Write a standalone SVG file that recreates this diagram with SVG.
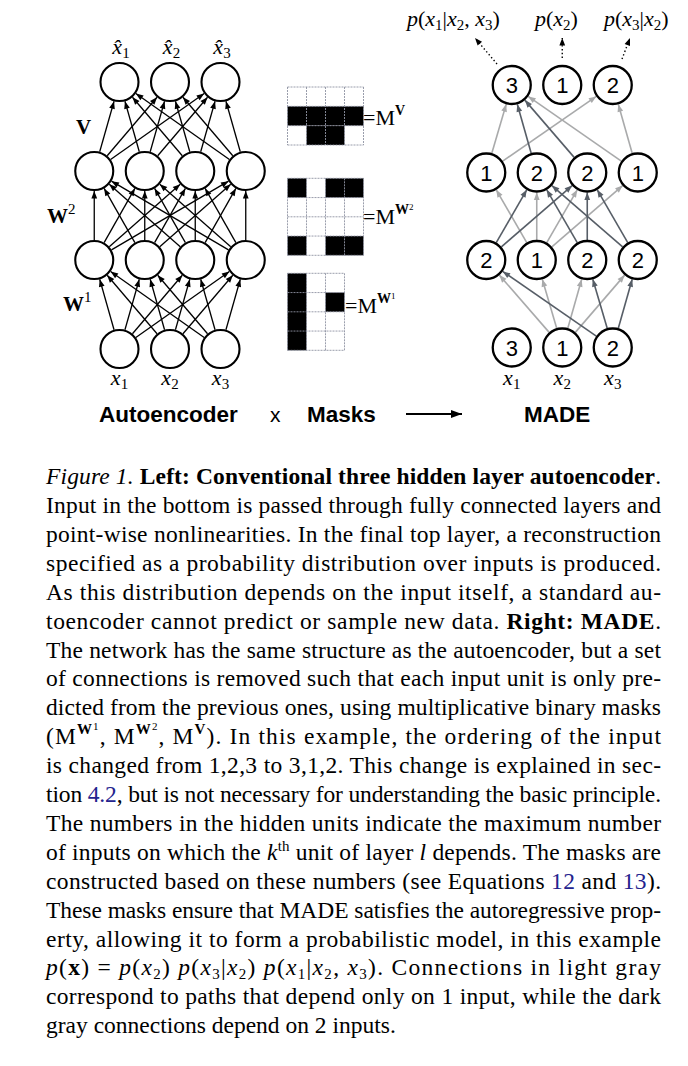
<svg xmlns="http://www.w3.org/2000/svg" width="688" height="1066" viewBox="0 0 688 1066">
<style>
.node{fill:#fff;stroke:#000;stroke-width:2.1}
.mnode{fill:#fff;stroke:#000;stroke-width:2.3}
.num{font-family:"Liberation Sans",Arial,sans-serif;font-size:22px;text-anchor:middle;fill:#000}
.blk{fill:none;stroke:#000;stroke-width:1.3;marker-end:url(#ahB)}
.lt{fill:none;stroke:#a9aaab;stroke-width:1.6;marker-end:url(#ahL)}
.dk{fill:none;stroke:#575e67;stroke-width:1.6;marker-end:url(#ahD)}
.dot{fill:none;stroke:#000;stroke-width:1.4;stroke-dasharray:1.4 2.4;marker-end:url(#ahB)}
.math{font-family:"Liberation Serif","Times New Roman",serif;font-size:22px;font-style:italic;fill:#000}
.sub{font-style:normal;font-size:15px}
.lbl{font-family:"Liberation Serif","Times New Roman",serif;font-weight:bold;font-size:21px;fill:#000}
.title{font-family:"Liberation Sans",Arial,sans-serif;font-weight:bold;font-size:22.5px;fill:#000}
.grid{fill:none;stroke:#8e93a3;stroke-width:0.9;stroke-dasharray:2 1}
.mtxt{font-family:"Liberation Serif","Times New Roman",serif;font-size:22px;fill:#000}
.cap{font-family:"Liberation Serif","Times New Roman",serif;font-size:23.5px;fill:#000}
.link{fill:#23238e}
</style>
<defs>
<marker id="ahB" viewBox="-10 -5 10 10" refX="0" refY="0" markerWidth="10" markerHeight="10" markerUnits="userSpaceOnUse" orient="auto"><path d="M0,0 L-7.5,-2.9 L-7.5,2.9 Z" fill="#000"/></marker>
<marker id="ahL" viewBox="-10 -5 10 10" refX="0" refY="0" markerWidth="10" markerHeight="10" markerUnits="userSpaceOnUse" orient="auto"><path d="M0,0 L-7.5,-2.9 L-7.5,2.9 Z" fill="#a9aaab"/></marker>
<marker id="ahD" viewBox="-10 -5 10 10" refX="0" refY="0" markerWidth="10" markerHeight="10" markerUnits="userSpaceOnUse" orient="auto"><path d="M0,0 L-7.5,-2.9 L-7.5,2.9 Z" fill="#575e67"/></marker>
<marker id="ahBig" viewBox="-12 -5 12 10" refX="0" refY="0" markerWidth="12" markerHeight="10" markerUnits="userSpaceOnUse" orient="auto"><path d="M0,0 L-11,-4 L-11,4 Z" fill="#000"/></marker>
</defs>

<g id="connectors">
<!-- left: input -> hidden1 -->
<path class="blk" d="M114.04,329.76 L99.71,279.24"/>
<path class="blk" d="M124.96,329.76 L139.29,279.24"/>
<path class="blk" d="M132.46,333.77 L182.29,275.23"/>
<path class="blk" d="M135.85,337.48 L229.4,271.52"/>
<path class="blk" d="M157.04,333.77 L107.21,275.23"/>
<path class="blk" d="M164.54,329.76 L150.21,279.24"/>
<path class="blk" d="M175.46,329.76 L189.79,279.24"/>
<path class="blk" d="M182.96,333.77 L232.79,275.23"/>
<path class="blk" d="M204.15,337.48 L110.6,271.52"/>
<path class="blk" d="M207.54,333.77 L157.71,275.23"/>
<path class="blk" d="M215.04,329.76 L200.71,279.24"/>
<path class="blk" d="M225.96,329.76 L240.29,279.24"/>
<!-- left: hidden1 -> hidden2 -->
<path class="blk" d="M94.25,240 L94.25,191"/>
<path class="blk" d="M104.12,242.61 L134.88,188.39"/>
<path class="blk" d="M109.26,246.78 L180.24,184.22"/>
<path class="blk" d="M111.49,249.87 L228.51,181.13"/>
<path class="blk" d="M134.88,242.61 L104.12,188.39"/>
<path class="blk" d="M144.75,240 L144.75,191"/>
<path class="blk" d="M154.62,242.61 L185.38,188.39"/>
<path class="blk" d="M159.76,246.78 L230.74,184.22"/>
<path class="blk" d="M180.24,246.78 L109.26,184.22"/>
<path class="blk" d="M185.38,242.61 L154.62,188.39"/>
<path class="blk" d="M195.25,240 L195.25,191"/>
<path class="blk" d="M205.12,242.61 L235.88,188.39"/>
<path class="blk" d="M228.51,249.87 L111.49,181.13"/>
<path class="blk" d="M230.74,246.78 L159.76,184.22"/>
<path class="blk" d="M235.88,242.61 L205.12,188.39"/>
<path class="blk" d="M245.75,240 L245.75,191"/>
<!-- left: hidden2 -> output -->
<path class="blk" d="M99.71,151.76 L114.04,101.24"/>
<path class="blk" d="M107.21,155.77 L157.04,97.23"/>
<path class="blk" d="M110.6,159.48 L204.15,93.52"/>
<path class="blk" d="M139.29,151.76 L124.96,101.24"/>
<path class="blk" d="M150.21,151.76 L164.54,101.24"/>
<path class="blk" d="M157.71,155.77 L207.54,97.23"/>
<path class="blk" d="M182.29,155.77 L132.46,97.23"/>
<path class="blk" d="M189.79,151.76 L175.46,101.24"/>
<path class="blk" d="M200.71,151.76 L215.04,101.24"/>
<path class="blk" d="M229.4,159.48 L135.85,93.52"/>
<path class="blk" d="M232.79,155.77 L182.96,97.23"/>
<path class="blk" d="M240.29,151.76 L225.96,101.24"/>
<!-- big arrow -->
<path d="M406,414 L462,414" fill="none" stroke="#000" stroke-width="2.2" marker-end="url(#ahBig)"/>
<!-- MADE: input -> hidden1 -->
<path class="lt" d="M549.16,332.38 L499.34,275.12"/>
<path class="lt" d="M556.7,328.28 L542.3,279.22"/>
<path class="lt" d="M567.8,328.28 L581.7,279.22"/>
<path class="lt" d="M575.34,332.38 L624.66,275.12"/>
<path class="dk" d="M596.31,336.11 L502.69,271.39"/>
<path class="dk" d="M607.2,328.28 L592.8,279.22"/>
<path class="dk" d="M618.3,328.28 L632.2,279.22"/>
<!-- MADE: hidden1 -> hidden2 -->
<path class="lt" d="M526.75,242.68 L496.25,189.82"/>
<path class="lt" d="M536.75,240 L536.75,192.5"/>
<path class="lt" d="M546.75,242.68 L577.25,189.82"/>
<path class="lt" d="M551.87,246.9 L622.63,185.6"/>
<path class="dk" d="M496.25,242.68 L526.75,189.82"/>
<path class="dk" d="M501.37,246.9 L572.13,185.6"/>
<path class="dk" d="M577.25,242.68 L546.75,189.82"/>
<path class="dk" d="M587.25,240 L587.25,192.5"/>
<path class="dk" d="M622.63,246.9 L551.87,185.6"/>
<path class="dk" d="M627.75,242.68 L597.25,189.82"/>
<!-- MADE: hidden2 -> output -->
<path class="lt" d="M491.8,153.28 L506.2,104.22"/>
<path class="lt" d="M502.69,161.11 L596.31,96.39"/>
<path class="lt" d="M621.31,161.11 L528.19,96.39"/>
<path class="lt" d="M632.2,153.28 L618.3,104.22"/>
<path class="dk" d="M531.2,153.28 L517.3,104.22"/>
<path class="dk" d="M574.16,157.38 L524.84,100.12"/>
<!-- MADE: outputs (dotted) -->
<path class="dot" d="M497,64 L475,38"/>
<path class="dot" d="M562.25,58 L562.25,38"/>
<path class="dot" d="M622,59 L630,38"/>
</g>

<!-- Left autoencoder nodes -->
<g id="ae-out-1"><circle class="node" cx="119.5" cy="82" r="19"/></g>
<g id="ae-out-2"><circle class="node" cx="170" cy="82" r="19"/></g>
<g id="ae-out-3"><circle class="node" cx="220.5" cy="82" r="19"/></g>
<g id="ae-h2-1"><circle class="node" cx="94.25" cy="171" r="19"/></g>
<g id="ae-h2-2"><circle class="node" cx="144.75" cy="171" r="19"/></g>
<g id="ae-h2-3"><circle class="node" cx="195.25" cy="171" r="19"/></g>
<g id="ae-h2-4"><circle class="node" cx="245.75" cy="171" r="19"/></g>
<g id="ae-h1-1"><circle class="node" cx="94.25" cy="260" r="19"/></g>
<g id="ae-h1-2"><circle class="node" cx="144.75" cy="260" r="19"/></g>
<g id="ae-h1-3"><circle class="node" cx="195.25" cy="260" r="19"/></g>
<g id="ae-h1-4"><circle class="node" cx="245.75" cy="260" r="19"/></g>
<g id="ae-in-1"><circle class="node" cx="119.5" cy="349" r="19"/></g>
<g id="ae-in-2"><circle class="node" cx="170" cy="349" r="19"/></g>
<g id="ae-in-3"><circle class="node" cx="220.5" cy="349" r="19"/></g>

<!-- Left labels -->
<g id="ae-labels">
<text class="math" x="121" y="54" text-anchor="middle">x̂<tspan class="sub" dy="4">1</tspan></text>
<text class="math" x="171.5" y="54" text-anchor="middle">x̂<tspan class="sub" dy="4">2</tspan></text>
<text class="math" x="222" y="54" text-anchor="middle">x̂<tspan class="sub" dy="4">3</tspan></text>
<text class="math" x="119.5" y="385" text-anchor="middle">x<tspan class="sub" dy="4">1</tspan></text>
<text class="math" x="170" y="385" text-anchor="middle">x<tspan class="sub" dy="4">2</tspan></text>
<text class="math" x="220.5" y="385" text-anchor="middle">x<tspan class="sub" dy="4">3</tspan></text>
<text class="lbl" x="76" y="134">V</text>
<text class="lbl" x="47" y="223">W<tspan font-weight="normal" font-size="15" dy="-9">2</tspan></text>
<text class="lbl" x="63" y="311">W<tspan font-weight="normal" font-size="15" dy="-9">1</tspan></text>
</g>

<!-- Masks -->
<g id="mask-V">
<rect x="287.5" y="106.33" width="76" height="19.33" fill="#000"/>
<rect x="306.5" y="125.67" width="38" height="19.33" fill="#000"/>
<path class="grid" d="M287.5,87 V145 M306.5,87 V145 M325.5,87 V145 M344.5,87 V145 M363.5,87 V145 M287.5,87 H363.5 M287.5,106.33 H363.5 M287.5,125.67 H363.5 M287.5,145 H363.5"/>
<text class="mtxt" x="363" y="125">=M<tspan font-weight="bold" font-size="14" dy="-10">V</tspan></text>
</g>
<g id="mask-W2">
<rect x="287.5" y="178.3" width="19" height="19.25" fill="#000"/>
<rect x="325.5" y="178.3" width="38" height="19.25" fill="#000"/>
<rect x="287.5" y="236.05" width="19" height="19.25" fill="#000"/>
<rect x="325.5" y="236.05" width="38" height="19.25" fill="#000"/>
<path class="grid" d="M287.5,178.3 V255.3 M306.5,178.3 V255.3 M325.5,178.3 V255.3 M344.5,178.3 V255.3 M363.5,178.3 V255.3 M287.5,178.3 H363.5 M287.5,197.55 H363.5 M287.5,216.8 H363.5 M287.5,236.05 H363.5 M287.5,255.3 H363.5"/>
<text class="mtxt" x="363" y="224">=M<tspan font-weight="bold" font-size="14" dy="-10">W</tspan><tspan font-size="9" dy="-4">2</tspan></text>
</g>
<g id="mask-W1">
<rect x="287.5" y="273.3" width="19" height="77" fill="#000"/>
<rect x="325.5" y="292.55" width="19" height="19.25" fill="#000"/>
<path class="grid" d="M287.5,273.3 V350.3 M306.5,273.3 V350.3 M325.5,273.3 V350.3 M344.5,273.3 V350.3 M287.5,273.3 H344.5 M287.5,292.55 H344.5 M287.5,311.8 H344.5 M287.5,331.05 H344.5 M287.5,350.3 H344.5"/>
<text class="mtxt" x="345" y="313">=M<tspan font-weight="bold" font-size="14" dy="-10">W</tspan><tspan font-size="9" dy="-4">1</tspan></text>
</g>

<!-- MADE nodes -->
<g id="made-out-1"><circle class="mnode" cx="511.75" cy="85" r="19"/><text class="num" x="511.75" y="93">3</text></g>
<g id="made-out-2"><circle class="mnode" cx="562.25" cy="85" r="19"/><text class="num" x="562.25" y="93">1</text></g>
<g id="made-out-3"><circle class="mnode" cx="612.75" cy="85" r="19"/><text class="num" x="612.75" y="93">2</text></g>
<g id="made-h2-1"><circle class="mnode" cx="486.25" cy="172.5" r="19"/><text class="num" x="486.25" y="180.5">1</text></g>
<g id="made-h2-2"><circle class="mnode" cx="536.75" cy="172.5" r="19"/><text class="num" x="536.75" y="180.5">2</text></g>
<g id="made-h2-3"><circle class="mnode" cx="587.25" cy="172.5" r="19"/><text class="num" x="587.25" y="180.5">2</text></g>
<g id="made-h2-4"><circle class="mnode" cx="637.75" cy="172.5" r="19"/><text class="num" x="637.75" y="180.5">1</text></g>
<g id="made-h1-1"><circle class="mnode" cx="486.25" cy="260" r="19"/><text class="num" x="486.25" y="268">2</text></g>
<g id="made-h1-2"><circle class="mnode" cx="536.75" cy="260" r="19"/><text class="num" x="536.75" y="268">1</text></g>
<g id="made-h1-3"><circle class="mnode" cx="587.25" cy="260" r="19"/><text class="num" x="587.25" y="268">2</text></g>
<g id="made-h1-4"><circle class="mnode" cx="637.75" cy="260" r="19"/><text class="num" x="637.75" y="268">2</text></g>
<g id="made-in-1"><circle class="mnode" cx="511.75" cy="347.5" r="19"/><text class="num" x="511.75" y="355.5">3</text></g>
<g id="made-in-2"><circle class="mnode" cx="562.25" cy="347.5" r="19"/><text class="num" x="562.25" y="355.5">1</text></g>
<g id="made-in-3"><circle class="mnode" cx="612.75" cy="347.5" r="19"/><text class="num" x="612.75" y="355.5">2</text></g>

<g id="made-labels">
<text class="math" x="511.75" y="385" text-anchor="middle">x<tspan class="sub" dy="4">1</tspan></text>
<text class="math" x="562.25" y="385" text-anchor="middle">x<tspan class="sub" dy="4">2</tspan></text>
<text class="math" x="612.75" y="385" text-anchor="middle">x<tspan class="sub" dy="4">3</tspan></text>
<text class="math" x="407" y="26">p<tspan font-style="normal">(</tspan>x<tspan class="sub" dy="4">1</tspan><tspan font-style="normal" dy="-4">|</tspan>x<tspan class="sub" dy="4">2</tspan><tspan font-style="normal" dy="-4">, </tspan>x<tspan class="sub" dy="4">3</tspan><tspan font-style="normal" dy="-4">)</tspan></text>
<text class="math" x="535" y="26">p<tspan font-style="normal">(</tspan>x<tspan class="sub" dy="4">2</tspan><tspan font-style="normal" dy="-4">)</tspan></text>
<text class="math" x="604" y="26">p<tspan font-style="normal">(</tspan>x<tspan class="sub" dy="4">3</tspan><tspan font-style="normal" dy="-4">|</tspan>x<tspan class="sub" dy="4">2</tspan><tspan font-style="normal" dy="-4">)</tspan></text>
</g>

<g id="titles">
<text class="title" x="99" y="422">Autoencoder</text>
<text x="270" y="422" font-family="Liberation Sans, Arial, sans-serif" font-size="21">x</text>
<text class="title" x="307" y="422">Masks</text>
<text class="title" x="524" y="422">MADE</text>
</g>

<g id="caption" class="cap">
<text x="46" y="484" textLength="615" lengthAdjust="spacing"><tspan font-style="italic">Figure 1.</tspan> <tspan font-weight="bold">Left: Conventional three hidden layer autoencoder</tspan>.</text>
<text x="46" y="513" textLength="615" lengthAdjust="spacing">Input in the bottom is passed through fully connected layers and</text>
<text x="46" y="542" textLength="615" lengthAdjust="spacing">point-wise nonlinearities. In the final top layer, a reconstruction</text>
<text x="46" y="570.8" textLength="615" lengthAdjust="spacing">specified as a probability distribution over inputs is produced.</text>
<text x="46" y="599.7" textLength="615" lengthAdjust="spacing">As this distribution depends on the input itself, a standard au-</text>
<text x="46" y="628.6" textLength="615" lengthAdjust="spacing">toencoder cannot predict or sample new data.  <tspan font-weight="bold">Right: MADE</tspan>.</text>
<text x="46" y="657.5" textLength="615" lengthAdjust="spacing">The network has the same structure as the autoencoder, but a set</text>
<text x="46" y="686.4" textLength="615" lengthAdjust="spacing">of connections is removed such that each input unit is only pre-</text>
<text x="46" y="715.3" textLength="615" lengthAdjust="spacing">dicted from the previous ones, using multiplicative binary masks</text>
<text x="46" y="744.2" textLength="615" lengthAdjust="spacing">(M<tspan font-weight="bold" font-size="15" dy="-10">W</tspan><tspan font-size="11" dy="-4">1</tspan><tspan dy="14">, M</tspan><tspan font-weight="bold" font-size="15" dy="-10">W</tspan><tspan font-size="11" dy="-4">2</tspan><tspan dy="14">, M</tspan><tspan font-weight="bold" font-size="15" dy="-10">V</tspan><tspan dy="10">). In this example, the ordering of the input</tspan></text>
<text x="46" y="773.1" textLength="615" lengthAdjust="spacing">is changed from 1,2,3 to 3,1,2. This change is explained in sec-</text>
<text x="46" y="802" textLength="615" lengthAdjust="spacing">tion <tspan class="link">4.2</tspan>, but is not necessary for understanding the basic principle.</text>
<text x="46" y="830.9" textLength="615" lengthAdjust="spacing">The numbers in the hidden units indicate the maximum number</text>
<text x="46" y="859.8" textLength="615" lengthAdjust="spacing">of inputs on which the <tspan font-style="italic">k</tspan><tspan font-size="15" dy="-9">th</tspan><tspan dy="9"> unit of layer </tspan><tspan font-style="italic">l</tspan> depends. The masks are</text>
<text x="46" y="888.7" textLength="615" lengthAdjust="spacing">constructed based on these numbers (see Equations <tspan class="link">12</tspan> and <tspan class="link">13</tspan>).</text>
<text x="46" y="917.6" textLength="615" lengthAdjust="spacing">These masks ensure that MADE satisfies the autoregressive prop-</text>
<text x="46" y="946.5" textLength="615" lengthAdjust="spacing">erty, allowing it to form a probabilistic model, in this example</text>
<text x="46" y="975.4" textLength="615" lengthAdjust="spacing"><tspan font-style="italic">p</tspan>(<tspan font-weight="bold">x</tspan>) = <tspan font-style="italic">p</tspan>(<tspan font-style="italic">x</tspan><tspan font-size="15" dy="4">2</tspan><tspan dy="-4">) </tspan><tspan font-style="italic">p</tspan>(<tspan font-style="italic">x</tspan><tspan font-size="15" dy="4">3</tspan><tspan dy="-4">|</tspan><tspan font-style="italic">x</tspan><tspan font-size="15" dy="4">2</tspan><tspan dy="-4">) </tspan><tspan font-style="italic">p</tspan>(<tspan font-style="italic">x</tspan><tspan font-size="15" dy="4">1</tspan><tspan dy="-4">|</tspan><tspan font-style="italic">x</tspan><tspan font-size="15" dy="4">2</tspan><tspan dy="-4">, </tspan><tspan font-style="italic">x</tspan><tspan font-size="15" dy="4">3</tspan><tspan dy="-4">). Connections in light gray</tspan></text>
<text x="46" y="1004.3" textLength="615" lengthAdjust="spacing">correspond to paths that depend only on 1 input, while the dark</text>
<text x="46" y="1033.2">gray connections depend on 2 inputs.</text>
</g>
</svg>
